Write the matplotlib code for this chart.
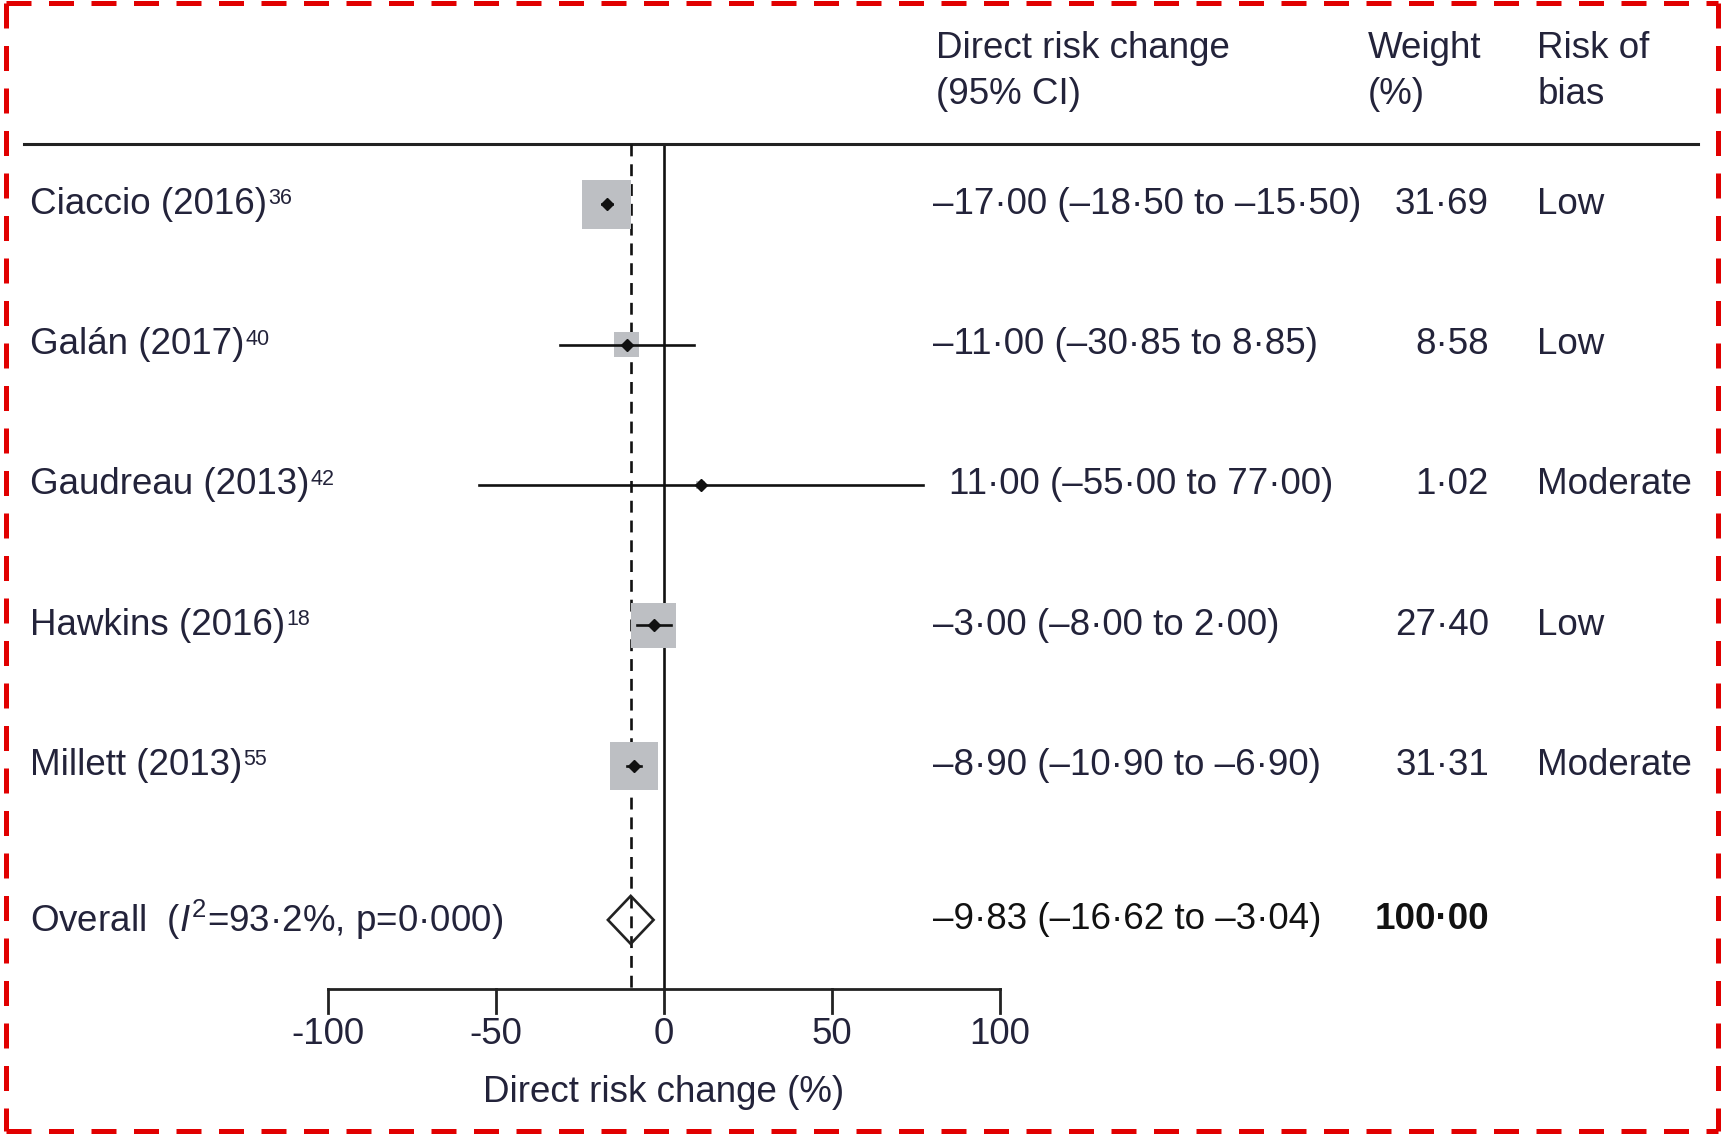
import matplotlib
matplotlib.use("Agg")
import matplotlib.pyplot as plt
from matplotlib.lines import Line2D
from matplotlib.patches import Polygon
import numpy as np

FAM = ['Liberation Sans Narrow', 'Liberation Sans', 'DejaVu Sans']
plt.rcParams['font.family'] = FAM
plt.rcParams['mathtext.fontset'] = 'custom'
plt.rcParams['mathtext.rm'] = 'Liberation Sans'
plt.rcParams['mathtext.it'] = 'Liberation Sans:italic'

# ---- data ----
studies = ["Ciaccio (2016)", "Galán (2017)", "Gaudreau (2013)", "Hawkins (2016)", "Millett (2013)"]
refs = ["36", "40", "42", "18", "55"]
estimates = [-17.00, -11.00, 11.00, -3.00, -8.90]
ci_low = [-18.50, -30.85, -55.00, -8.00, -10.90]
ci_high = [-15.50, 8.85, 77.00, 2.00, -6.90]
weights = [31.69, 8.58, 1.02, 27.40, 31.31]
bias = ["Low", "Low", "Moderate", "Low", "Moderate"]
overall_est = -9.83
overall_low = -16.62
overall_high = -3.04
overall_weight = 100.00
i2 = 93.2
pval = 0.000
xticks = [-100, -50, 0, 50, 100]

TXT = '#23233a'
FS = 26.5

def fmt(v):
    s = f"{abs(v):.2f}".replace('.', '\u00b7')
    return ('\u2013' if v < 0 else '') + s

W, H = 1723, 1134
fig = plt.figure(figsize=(W / 100, H / 100), dpi=100)
ax = fig.add_axes([0, 0, 1, 1])
ax.set_xlim(-197.4, 315.0)
ax.set_ylim(6.626, -1.457)
ax.axis('off')

y_rows = np.arange(len(studies))
y_over = 5.1
y_top = -0.43
y_axis = 5.59

# reference lines (below boxes)
ax.plot([0, 0], [y_top, y_axis], color='#111', lw=1.9, zorder=1)
ax.plot([overall_est, overall_est], [y_top, y_axis], color='#111', lw=1.9,
        ls=(0, (4.5, 3)), zorder=2)

# header line
px = 1 / 3.3625
ax.plot([-197.4 + 24 * px, -197.4 + 1698 * px], [y_top, y_top], color='#222', lw=2.2, zorder=1)

# boxes
unit_px = 140.3  # px per row unit
for y, est, lo, hi, w in zip(y_rows, estimates, ci_low, ci_high, weights):
    side_px = 8.6 * np.sqrt(w)
    dx = side_px * px
    dy = side_px / unit_px
    ax.add_patch(plt.Rectangle((est - dx / 2, y - dy / 2), dx, dy,
                               facecolor='#bdbfc3', edgecolor='none', zorder=3))
    ax.plot([lo, hi], [y, y], color='#111', lw=1.9, zorder=6)
    ax.plot([est], [y], marker='D', ms=6.5, color='#111', zorder=7)

# diamond
dh = 24 / unit_px
ax.add_patch(Polygon([[overall_low, y_over], [overall_est, y_over - dh],
                      [overall_high, y_over], [overall_est, y_over + dh]],
                     closed=True, facecolor='none', edgecolor='#222', lw=1.9, zorder=6))

# bottom axis
ax.plot([xticks[0], xticks[-1]], [y_axis, y_axis], color='#222', lw=2.0, zorder=2)
for t in xticks:
    ax.plot([t, t], [y_axis, 5.76], color='#222', lw=2.0, zorder=2)
    ax.text(t, 5.92, f"{t}", ha='center', va='center', fontsize=FS, color=TXT)
ax.text(0, 6.33, "Direct risk change (%)", ha='center', va='center', fontsize=FS, color=TXT)

# headers
x_eff = 80.1
x_w_left = 209.5
x_w_right = 245.4
x_rob = 259.8
x_lab = -188.6
ax.text(x_eff + 1, -1.11, "Direct risk change", ha='left', va='center', fontsize=FS, color=TXT)
ax.text(x_eff + 1, -0.78, "(95% CI)", ha='left', va='center', fontsize=FS, color=TXT)
ax.text(x_w_left, -1.11, "Weight", ha='left', va='center', fontsize=FS, color=TXT)
ax.text(x_w_left, -0.78, "(%)", ha='left', va='center', fontsize=FS, color=TXT)
ax.text(x_rob, -1.11, "Risk of", ha='left', va='center', fontsize=FS, color=TXT)
ax.text(x_rob, -0.78, "bias", ha='left', va='center', fontsize=FS, color=TXT)

# rows
for y, name, r, est, lo, hi, w, b in zip(y_rows, studies, refs, estimates, ci_low, ci_high, weights, bias):
    lab = ax.text(x_lab, y, name, ha='left', va='center', fontsize=FS, color=TXT)
    ax.annotate(r, xy=(1, 1), xycoords=lab, xytext=(1, -1), textcoords='offset points',
                ha='left', va='top', fontsize=15.5, color=TXT)
    s = f"{fmt(est)} ({fmt(lo)} to {fmt(hi)})"
    xoff = x_eff if est < 0 else x_eff + 4.6
    ax.text(xoff, y, s, ha='left', va='center', fontsize=FS, color=TXT)
    ax.text(x_w_right, y, f"{w:.2f}".replace('.', '\u00b7'), ha='right', va='center', fontsize=FS, color=TXT)
    ax.text(x_rob, y, b, ha='left', va='center', fontsize=FS, color=TXT)

ax.text(x_lab, y_over, "Overall  ($I^2$=" + f"{i2:.1f}".replace('.', '\u00b7') + "%, p="
        + f"{pval:.3f}".replace('.', '\u00b7') + ")", ha='left', va='center', fontsize=FS, color=TXT)
ax.text(x_eff, y_over, f"{fmt(overall_est)} ({fmt(overall_low)} to {fmt(overall_high)})",
        ha='left', va='center', fontsize=FS, color='#111')
ax.text(x_w_right, y_over, f"{overall_weight:.2f}".replace('.', '\u00b7'), ha='right', va='center',
        fontsize=FS, color='#111', fontweight='bold')

# red dashed frame
for xs, ys in [([6, 1718], [3, 3]), ([6, 1718], [1131, 1131]), ([6, 6], [3, 1131]), ([1718, 1718], [3, 1131])]:
    fig.add_artist(Line2D([x / W for x in xs], [1 - y / H for y in ys], color='#e10000', lw=3.6,
                          ls=(0, (5, 3.5)), transform=fig.transFigure))

fig.savefig("out.png", dpi=100)
